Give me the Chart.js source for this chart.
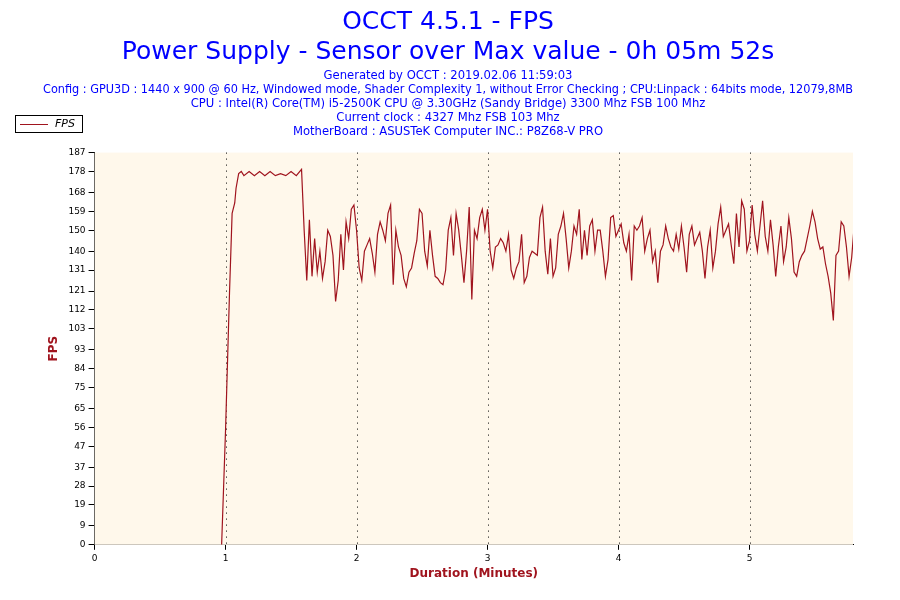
<!DOCTYPE html>
<html>
<head>
<meta charset="utf-8">
<script src="https://cdn.jsdelivr.net/npm/chart.js@4.4.1/dist/chart.umd.min.js"></script>
<style>
  body { margin: 0; background: #fff; }
  #wrap { width: 900px; height: 600px; position: relative; }
</style>
</head>
<body>
<div id="wrap"><canvas id="grafico"></canvas></div>
<script>
// Dados
const rampTimes = [0.97, 1.0, 1.03, 1.05, 1.07, 1.08, 1.1, 1.12];
const rampValues = [0, 55, 120, 158, 163, 170, 177, 178];
const plateauTimes = [1.14, 1.18, 1.22, 1.26, 1.3, 1.34, 1.38, 1.42, 1.46, 1.5, 1.54, 1.58];
const plateauValues = [176, 178, 176, 178, 176, 178, 176, 177, 176, 178, 176, 179];
const noiseStart = 1.6;
const noiseStep = 0.02;
const noiseValues = [
  150, 126, 155, 128, 146, 130, 140, 127, 135, 150, 147, 138, 116, 126, 148, 131, 154, 146, 160, 162,
  150, 132, 126, 140, 143, 146, 139, 130, 148, 154, 150, 145, 158, 162, 124, 150, 142, 138, 127, 123,
  130, 132, 139, 145, 160, 158, 140, 133, 150, 138, 128, 127, 125, 124, 131, 150, 156, 138, 158, 150,
  138, 125, 140, 161, 117, 150, 146, 156, 160, 150, 160, 140, 132, 142, 143, 146, 144, 140, 148, 131,
  127, 132, 135, 148, 125, 128, 137, 140, 139, 138, 156, 161, 140, 129, 146, 128, 132, 148, 152, 158,
  146, 132, 140, 152, 148, 160, 136, 150, 138, 152, 155, 140, 150, 150, 140, 128, 136, 156, 157, 147,
  150, 153, 144, 140, 148, 126, 152, 150, 152, 156, 140, 146, 150, 135, 140, 125, 140, 143, 152, 146,
  142, 140, 148, 141, 152, 142, 130, 148, 152, 143, 146, 149, 140, 127, 142, 150, 132, 140, 153, 161,
  147, 150, 153, 143, 134, 158, 142, 164, 160, 140, 145, 162, 148, 140, 152, 164, 147, 140, 155, 143,
  128, 142, 152, 135, 142, 156, 146, 130, 128, 135, 138, 140, 146, 152, 159, 154, 146, 141, 142, 134,
  128, 120, 107, 138, 140, 154, 152, 142, 128, 137, 153, 140, 136, 135, 140, 152, 144, 150, 144, 141,
  133, 130
];
const yTicks = [0, 9, 19, 28, 37, 47, 56, 65, 75, 84, 93, 103, 112, 121, 131, 140, 150, 159, 168, 178, 187];
const xTicks = [0, 1, 2, 3, 4, 5];

const pontos = [];
rampTimes.forEach((t, i) => pontos.push({ x: t, y: rampValues[i] }));
plateauTimes.forEach((t, i) => pontos.push({ x: t, y: plateauValues[i] }));
noiseValues.forEach((v, i) => pontos.push({ x: noiseStart + i * noiseStep, y: v }));

const fundo = {
  id: 'fundo',
  beforeDatasetsDraw(chart) {
    const { ctx, chartArea: a, scales } = chart;
    ctx.save();
    ctx.fillStyle = '#fff8eb';
    ctx.fillRect(a.left, a.top, a.width, a.height);
    // linhas pontilhadas verticais
    ctx.strokeStyle = '#000';
    ctx.lineWidth = 1;
    ctx.setLineDash([1, 5]);
    xTicks.slice(1).forEach(v => {
      const px = Math.round(scales.x.getPixelForValue(v)) + 0.5;
      ctx.beginPath(); ctx.moveTo(px, a.top); ctx.lineTo(px, a.bottom); ctx.stroke();
    });
    ctx.restore();
  },
  afterDraw(chart) {
    const { ctx } = chart;
    ctx.save();
    ctx.strokeStyle = '#000';
    ctx.lineWidth = 1;
    ctx.strokeRect(15.5, 115.5, 67, 17);
    ctx.strokeStyle = '#a0141e';
    ctx.beginPath(); ctx.moveTo(20, 124.5); ctx.lineTo(48, 124.5); ctx.stroke();
    ctx.fillStyle = '#000';
    ctx.font = 'italic 11px "DejaVu Sans"';
    ctx.textBaseline = 'middle';
    ctx.fillText('FPS', 55, 124);
    ctx.restore();
  }
};

new Chart(document.getElementById('grafico'), {
  type: 'line',
  data: {
    datasets: [{
      label: 'FPS',
      data: pontos,
      borderColor: '#a0141e',
      borderWidth: 1.2,
      pointRadius: 0,
      tension: 0
    }]
  },
  options: {
    responsive: true,
    maintainAspectRatio: false,
    animation: false,
    layout: { padding: { left: 43, right: 47, top: 0, bottom: 19 } },
    plugins: {
      legend: { display: false },
      tooltip: { enabled: false },
      title: {
        display: true,
        text: ['OCCT 4.5.1 - FPS', 'Power Supply - Sensor over Max value - 0h 05m 52s'],
        color: '#0000ff',
        font: { size: 25, family: 'DejaVu Sans', weight: 'normal', lineHeight: 1.2 },
        padding: { top: 7, bottom: 0 }
      },
      subtitle: {
        display: true,
        text: [
          'Generated by OCCT : 2019.02.06 11:59:03',
          'Config : GPU3D : 1440 x 900 @ 60 Hz, Windowed mode, Shader Complexity 1, without Error Checking ; CPU:Linpack : 64bits mode, 12079,8MB',
          'CPU : Intel(R) Core(TM) i5-2500K CPU @ 3.30GHz (Sandy Bridge) 3300 Mhz FSB 100 Mhz',
          'Current clock : 4327 Mhz FSB 103 Mhz',
          'MotherBoard : ASUSTeK Computer INC.: P8Z68-V PRO'
        ],
        color: '#0000ff',
        font: { size: 11.6, family: 'DejaVu Sans', lineHeight: 1.2 },
        padding: { top: 2, bottom: 14 }
      }
    },
    scales: {
      x: {
        type: 'linear',
        min: 0,
        max: 5.79,
        afterBuildTicks: s => { s.ticks = xTicks.map(v => ({ value: v })); },
        ticks: { color: '#000', font: { size: 9, family: 'DejaVu Sans' }, maxRotation: 0 },
        grid: { drawOnChartArea: false, drawTicks: true, tickLength: 5, tickColor: '#000' },
        border: { color: '#000' },
        title: { display: true, text: 'Duration (Minutes)', color: '#a0141e', font: { size: 12, weight: 'bold', family: 'DejaVu Sans' }, padding: 0 }
      },
      y: {
        min: 0,
        max: 187,
        afterBuildTicks: s => { s.ticks = yTicks.map(v => ({ value: v })); },
        ticks: { color: '#000', font: { size: 9, family: 'DejaVu Sans' }, autoSkip: false },
        grid: { drawOnChartArea: false, drawTicks: true, tickLength: 6, tickColor: '#000' },
        border: { color: '#000' },
        title: { display: true, text: 'FPS', color: '#a0141e', font: { size: 12, weight: 'bold', family: 'DejaVu Sans' } }
      }
    }
  },
  plugins: [fundo]
});
</script>
</body>
</html>
